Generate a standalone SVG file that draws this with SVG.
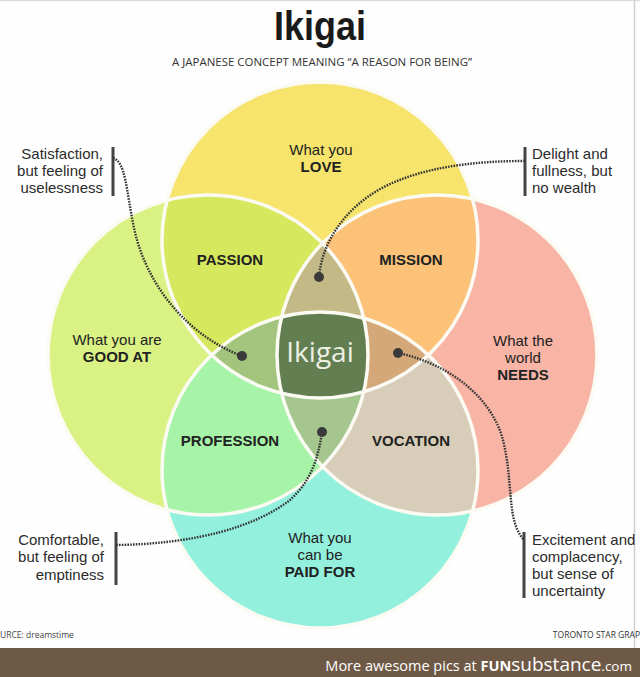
<svg xmlns="http://www.w3.org/2000/svg" width="640" height="677" viewBox="0 0 640 677">
<style>
.t{font-family:"Liberation Sans",Arial,sans-serif;fill:#222;font-size:15px}
.b{font-weight:700}
.c{text-anchor:middle}
.r{text-anchor:end}
.side{font-family:"Liberation Sans",Arial,sans-serif;fill:#2b2b2b;font-size:15px}
.bar{stroke:#444;stroke-width:3}
.dl{fill:none;stroke:#333;stroke-width:2.4;stroke-dasharray:1.6 1.2}
.dot{fill:#3a3a3a}
.edge{fill:none;stroke:#fbfbf3;stroke-width:3.5}
</style>
<defs>
<circle id="T" cx="320" cy="240" r="158"/>
<circle id="L" cx="208" cy="355" r="160"/>
<circle id="R" cx="437" cy="355" r="160"/>
<circle id="B" cx="320" cy="470" r="158"/>
<clipPath id="cT"><use href="#T"/></clipPath>
<clipPath id="cL"><use href="#L"/></clipPath>
<clipPath id="cR"><use href="#R"/></clipPath>
<clipPath id="cB"><use href="#B"/></clipPath>
</defs>
<rect x="0" y="0" width="640" height="677" fill="#fefefe"/>
<line x1="0" y1="0.5" x2="640" y2="0.5" stroke="#dcdcdc" stroke-width="1.5"/>
<line x1="634.5" y1="0" x2="634.5" y2="648" stroke="#d0d0d0" stroke-width="1.5"/>

<g id="title">
<text x="320" y="40" class="c" font-family="Liberation Sans, Arial, sans-serif" font-weight="700" font-size="40" fill="#1a1a1a" textLength="92" lengthAdjust="spacingAndGlyphs">Ikigai</text>
<text x="322" y="66" class="c" font-family="Open Sans, Liberation Sans, sans-serif" font-size="11" fill="#333" textLength="300" lengthAdjust="spacingAndGlyphs">A JAPANESE CONCEPT MEANING “A REASON FOR BEING”</text>
</g>

<g id="venn">
<use href="#T" fill="#f7e46c"/>
<use href="#L" fill="#daf283"/>
<use href="#R" fill="#f8b5a5"/>
<use href="#B" fill="#93f0dc"/>
<g clip-path="url(#cT)"><use href="#L" fill="#d6e85e"/><use href="#R" fill="#fbc278"/></g>
<g clip-path="url(#cB)"><use href="#L" fill="#a7f3a8"/><use href="#R" fill="#d7cdb8"/></g>
<g clip-path="url(#cT)"><g clip-path="url(#cL)"><use href="#R" fill="#c3b986"/><use href="#B" fill="#a3c47c"/></g></g>
<g clip-path="url(#cT)"><g clip-path="url(#cR)"><use href="#B" fill="#d5a87a"/></g></g>
<g clip-path="url(#cB)"><g clip-path="url(#cL)"><use href="#R" fill="#a5c68e"/></g></g>
<g clip-path="url(#cT)"><g clip-path="url(#cL)"><g clip-path="url(#cR)"><use href="#B" fill="#637f52"/></g></g></g>
<use href="#T" class="edge"/>
<use href="#L" class="edge"/>
<use href="#R" class="edge"/>
<use href="#B" class="edge"/>
</g>

<g id="love"><text class="t c" x="321" y="155">What you</text><text class="t c b" x="321" y="172">LOVE</text></g>
<g id="passion"><text class="t c b" x="230" y="265">PASSION</text></g>
<g id="mission"><text class="t c b" x="411" y="265">MISSION</text></g>
<g id="goodat"><text class="t c" x="117" y="345">What you are</text><text class="t c b" x="117" y="362">GOOD AT</text></g>
<g id="ikigai"><text x="320" y="362" class="c" font-family="Open Sans, Liberation Sans, sans-serif" font-size="28" fill="#eef0e4">Ikigai</text></g>
<g id="needs"><text class="t c" x="523" y="346">What the</text><text class="t c" x="523" y="363">world</text><text class="t c b" x="523" y="380">NEEDS</text></g>
<g id="profession"><text class="t c b" x="230" y="446">PROFESSION</text></g>
<g id="vocation"><text class="t c b" x="411" y="446">VOCATION</text></g>
<g id="paidfor"><text class="t c" x="320" y="543">What you</text><text class="t c" x="320" y="560">can be</text><text class="t c b" x="320" y="577">PAID FOR</text></g>

<g id="note-satisfaction">
<text class="side r" x="103" y="159">Satisfaction,</text>
<text class="side r" x="103" y="176">but feeling of</text>
<text class="side r" x="103" y="193">uselessness</text>
<line class="bar" x1="113" y1="147" x2="113" y2="196"/>
</g>
<g id="note-delight">
<text class="side" x="532" y="159">Delight and</text>
<text class="side" x="532" y="176">fullness, but</text>
<text class="side" x="532" y="193">no wealth</text>
<line class="bar" x1="525" y1="147" x2="525" y2="196"/>
</g>
<g id="note-comfortable">
<text class="side r" x="104" y="545">Comfortable,</text>
<text class="side r" x="104" y="562">but feeling of</text>
<text class="side r" x="104" y="580">emptiness</text>
<line class="bar" x1="116" y1="532" x2="116" y2="585"/>
</g>
<g id="note-excitement">
<text class="side" x="532" y="545">Excitement and</text>
<text class="side" x="532" y="562">complacency,</text>
<text class="side" x="532" y="579">but sense of</text>
<text class="side" x="532" y="596">uncertainty</text>
<line class="bar" x1="524" y1="532" x2="524" y2="598"/>
</g>

<g id="connectors">
<path class="dl" d="M113,158 C126,162 126,190 134,228 C146,285 188,336 242,356"/>
<path class="dl" d="M525,161 C470,161 420,168 382,188 C345,208 322,242 319,277"/>
<path class="dl" d="M116,545 C195,544 255,527 290,500 C310,482 318,460 322,432"/>
<path class="dl" d="M398,353 C450,364 492,398 503,440 C514,485 506,520 524,540"/>
<circle class="dot" cx="242" cy="356" r="5"/>
<circle class="dot" cx="319" cy="277" r="5"/>
<circle class="dot" cx="322" cy="432" r="5"/>
<circle class="dot" cx="398" cy="353" r="5"/>
</g>

<g id="footer">
<text x="0" y="638" font-family="Open Sans, Liberation Sans, sans-serif" font-size="8.5" fill="#444">URCE: dreamstime</text>
<text x="640" y="638" class="r" font-family="Open Sans, Liberation Sans, sans-serif" font-size="8.5" fill="#333">TORONTO STAR GRAP</text>
<rect x="0" y="648" width="640" height="29" fill="#6e5946"/>
<text x="632" y="671" class="r" font-family="Open Sans, Liberation Sans, sans-serif" fill="#ffffff" font-size="14.5">More awesome pics at <tspan font-weight="700">FUN</tspan><tspan font-size="19">substance</tspan><tspan font-size="13.5">.com</tspan></text>
</g>
</svg>
